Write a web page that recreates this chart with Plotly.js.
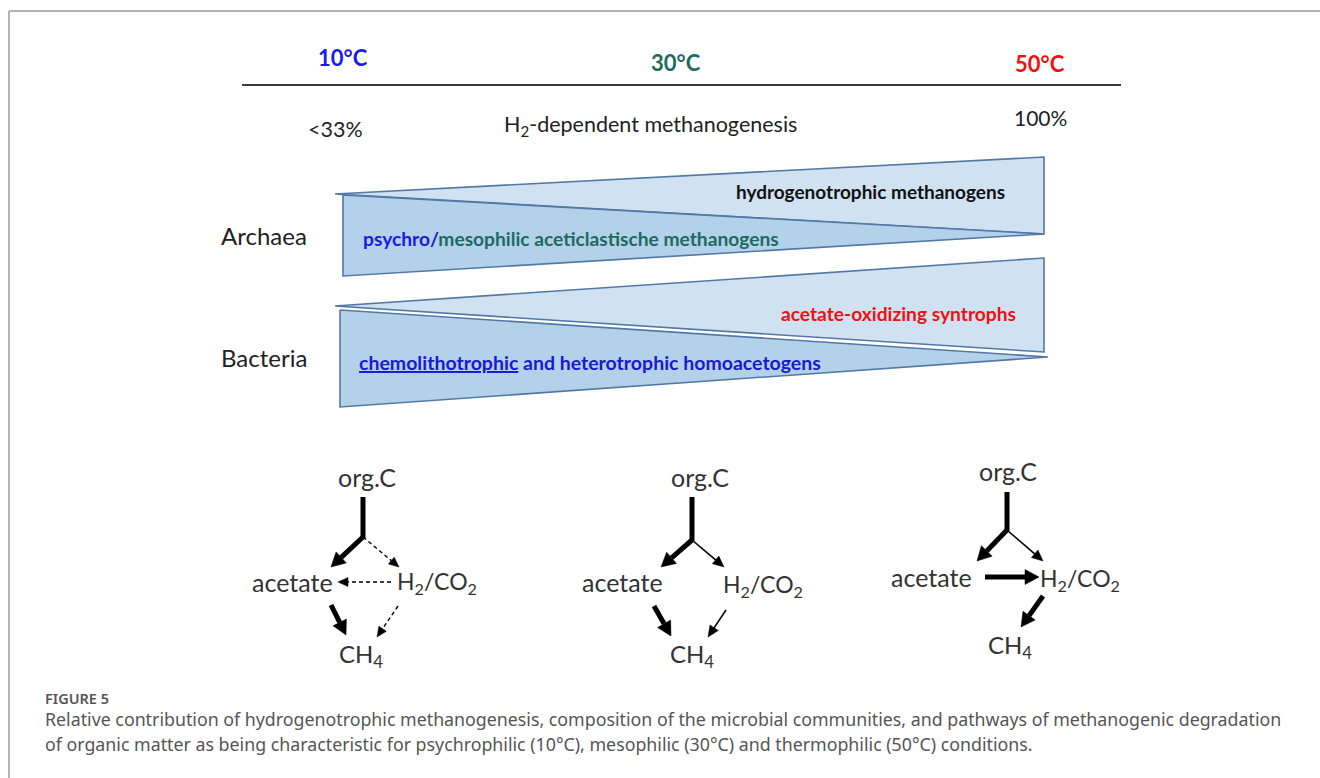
<!DOCTYPE html>
<html><head><meta charset="utf-8">
<script src="https://cdn.plot.ly/plotly-3.0.1.min.js"></script>
<style>html,body{margin:0;padding:0;background:#fff;}#chart{width:1320px;height:778px;}</style>
</head><body><div id="chart"></div>
<script>
// ---------------- data ----------------
const temperatures = ['10°C', '30°C', '50°C'];
const h2ShareLabels = ['<33%', '100%'];
const h2Title = 'H<sub>2</sub>-dependent methanogenesis';
const domains = ['Archaea', 'Bacteria'];
const risingGroups = ['hydrogenotrophic methanogens', 'acetate-oxidizing syntrophs'];
const fallingGroups = ['psychro/mesophilic aceticlastische methanogens', 'chemolithotrophic and heterotrophic homoacetogens'];
const risingShare = [0, 1];   // relative share at 10°C and 50°C (wedge thickness)
const fallingShare = [1, 0];
const nodeLabels = ['org.C', 'acetate', 'H<sub>2</sub>/CO<sub>2</sub>', 'CH<sub>4</sub>'];
// pathway fluxes per temperature: [edge, strength]
const paths10 = [['org', 'strong'], ['toAc', 'strong'], ['toH2', 'minor'], ['H2toAc', 'minor'], ['AcToCH4', 'strong'], ['H2toCH4', 'minor']];
const paths30 = [['org', 'strong'], ['toAc', 'strong'], ['toH2', 'weak'], ['AcToCH4', 'strong'], ['H2toCH4', 'weak']];
const paths50 = [['org', 'strong'], ['toAc', 'strong'], ['toH2', 'weak'], ['AcToH2', 'strong'], ['H2toCH4', 'strong']];
const captionHead = 'FIGURE 5';
const captionLines = [
  'Relative contribution of hydrogenotrophic methanogenesis, composition of the microbial communities, and pathways of methanogenic degradation',
  'of organic matter as being characteristic for psychrophilic (10°C), mesophilic (30°C) and thermophilic (50°C) conditions.'
];

// ---------------- geometry / styles ----------------
const FONT = 'Lato, "Open Sans", sans-serif';
const tempColors = ['#1a1af0', '#1d6b5f', '#f01010'];
const tempPos = [[343, 57], [676, 62], [1040, 63]];
const wedgeGeo = [
  {light: {x0: 335, yTip: 194, x1: 1044, yTop: 157, yBot: 234}, dark: {x0: 343, yTop: 195, yBot: 276, x1: 1044, yTip: 234}},
  {light: {x0: 335, yTip: 306, x1: 1044, yTop: 258, yBot: 352}, dark: {x0: 340, yTop: 310, yBot: 407, x1: 1048, yTip: 357}}
];
const diagGeo = [
  {labels: [[367, 477], [292, 582], [437, 582], [361, 655]],
   edges: {org: [[363, 497], [363, 538]], toAc: [[363, 537], [331, 567]], toH2: [[363, 537], [399, 567]],
           H2toAc: [[391, 582], [338, 582]], AcToCH4: [[331, 605], [346, 635]], H2toCH4: [[398, 606], [377, 637]]}},
  {labels: [[700, 477], [622, 582], [763, 585], [692, 655]],
   edges: {org: [[692, 497], [692, 541]], toAc: [[692, 540], [661, 567]], toH2: [[692, 540], [724, 567]],
           AcToCH4: [[654, 606], [671, 636]], H2toCH4: [[726, 610], [708, 637]]}},
  {labels: [[1008, 471], [931, 577], [1080, 579], [1010, 646]],
   edges: {org: [[1007, 492], [1007, 531]], toAc: [[1007, 530], [977, 561]], toH2: [[1007, 530], [1043, 561]],
           AcToH2: [[985, 577], [1039, 577]], H2toCH4: [[1043, 596], [1021, 627]]}}
];
const labelSizes = [25, 25, 23, 24];
const edgeStyle = {
  strong: {w: 5, dash: 'solid', headL: 14, headW: 15},
  weak: {w: 1.6, dash: 'solid', headL: 11, headW: 10},
  minor: {w: 1.4, dash: '4px,3px', headL: 10, headW: 9}
};

const traces = [];
const annotations = [];
const shapes = [];

// frame
shapes.push({type: 'line', x0: 9, x1: 1320, y0: 11, y1: 11, line: {color: '#b4b4b4', width: 2}});
shapes.push({type: 'line', x0: 9, x1: 9, y0: 11, y1: 778, line: {color: '#b4b4b4', width: 2}});
// top rule
shapes.push({type: 'line', x0: 242, x1: 1121, y0: 85, y1: 85, line: {color: '#3a3a3a', width: 2}});

temperatures.forEach((t, i) => {
  annotations.push({x: tempPos[i][0], y: tempPos[i][1], text: '<b>' + t + '</b>', showarrow: false,
    font: {family: FONT, size: 22, color: tempColors[i]}});
});
annotations.push({x: 335, y: 129, text: h2ShareLabels[0], showarrow: false, font: {family: FONT, size: 21.5, color: '#222'}});
annotations.push({x: 1040, y: 117, text: h2ShareLabels[1], showarrow: false, font: {family: FONT, size: 21, color: '#222'}});
annotations.push({x: 650, y: 125, text: h2Title, showarrow: false, font: {family: FONT, size: 21.5, color: '#222'}});

// wedges
const lightFill = '#d0e1f2', darkFill = '#b4d1ea', edgeCol = '#5279a6';
wedgeGeo.forEach((g, i) => {
  const L = g.light, D = g.dark;
  const lh = [(L.yBot - L.yTop) * risingShare[0], (L.yBot - L.yTop) * risingShare[1]];
  const dh = [(D.yBot - D.yTop) * fallingShare[0], (D.yBot - D.yTop) * fallingShare[1]];
  traces.push({type: 'scatter', mode: 'lines', fill: 'toself', fillcolor: lightFill,
    line: {color: edgeCol, width: 1.6}, hoverinfo: 'skip',
    x: [L.x0, L.x0, L.x1, L.x1, L.x0], y: [L.yTip - lh[0] / 2, L.yTip, L.yBot, L.yBot - lh[1], L.yTip - lh[0] / 2]});
  traces.push({type: 'scatter', mode: 'lines', fill: 'toself', fillcolor: darkFill,
    line: {color: edgeCol, width: 1.6}, hoverinfo: 'skip',
    x: [D.x0, D.x0, D.x1, D.x1, D.x0], y: [D.yTop, D.yTop + dh[0], D.yTip + dh[1], D.yTip, D.yTop]});
});

const CFONT = 'Lato, sans-serif';
annotations.push({x: 1007, y: 191, xanchor: 'right', text: '<b>' + risingGroups[0] + '</b>', showarrow: false,
  font: {family: CFONT, size: 19, color: '#111'}});
annotations.push({x: 361, y: 238, xanchor: 'left', showarrow: false,
  text: '<b><span style="color:#1a1ae0">' + fallingGroups[0].split('/')[0] + '/</span>' + fallingGroups[0].split('/')[1] + '</b>',
  font: {family: CFONT, size: 19.2, color: '#1d6b5f'}});
annotations.push({x: 1018, y: 313, xanchor: 'right', text: '<b>' + risingGroups[1] + '</b>', showarrow: false,
  font: {family: CFONT, size: 19.2, color: '#ee1111'}});
const fg = fallingGroups[1].split(' ');
annotations.push({x: 357, y: 362, xanchor: 'left', showarrow: false,
  text: '<b><u>' + fg[0] + '</u> ' + fg.slice(1).join(' ') + '</b>',
  font: {family: CFONT, size: 19.5, color: '#1a1ad0'}});
annotations.push({x: 264, y: 235, text: domains[0], showarrow: false, font: {family: FONT, size: 24, color: '#222'}});
annotations.push({x: 264, y: 357, text: domains[1], showarrow: false, font: {family: FONT, size: 24, color: '#222'}});

// pathway diagrams
[paths10, paths30, paths50].forEach((paths, d) => {
  const g = diagGeo[d];
  nodeLabels.forEach((lab, k) => {
    annotations.push({x: g.labels[k][0], y: g.labels[k][1], text: lab, showarrow: false,
      font: {family: FONT, size: labelSizes[k], color: '#333'}});
  });
  paths.forEach(([edge, strength]) => {
    const [p0, p1] = g.edges[edge];
    const st = edgeStyle[strength];
    const isHead = edge !== 'org';
    const dx = p1[0] - p0[0], dy = p1[1] - p0[1];
    const len = Math.hypot(dx, dy), ux = dx / len, uy = dy / len;
    const base = isHead ? [p1[0] - ux * st.headL, p1[1] - uy * st.headL] : p1;
    traces.push({type: 'scatter', mode: 'lines', hoverinfo: 'skip',
      x: [p0[0], base[0]], y: [p0[1], base[1]],
      line: {color: '#000', width: st.w, dash: st.dash}});
    if (isHead) {
      const px = -uy, py = ux, hw = st.headW / 2;
      traces.push({type: 'scatter', mode: 'lines', fill: 'toself', fillcolor: '#000', hoverinfo: 'skip',
        line: {color: '#000', width: 0.5},
        x: [p1[0], base[0] + px * hw, base[0] - px * hw, p1[0]],
        y: [p1[1], base[1] + py * hw, base[1] - py * hw, p1[1]]});
    }
  });
});

// caption
annotations.push({x: 43, y: 698, xanchor: 'left', text: captionHead, showarrow: false,
  font: {family: '"Noto Sans", sans-serif', size: 14.5, weight: 600, color: '#555'}});
captionLines.forEach((ln, i) => {
  annotations.push({x: 43, y: 719 + i * 25, xanchor: 'left', text: ln, showarrow: false,
    font: {family: '"Noto Sans", sans-serif', size: 17.8, color: '#555'}});
});

const layout = {
  width: 1320, height: 778, margin: {l: 0, r: 0, t: 0, b: 0},
  paper_bgcolor: '#fff', plot_bgcolor: '#fff', showlegend: false,
  xaxis: {range: [0, 1320], visible: false, fixedrange: true},
  yaxis: {range: [778, 0], visible: false, fixedrange: true},
  annotations: annotations, shapes: shapes
};
Plotly.newPlot('chart', traces, layout, {staticPlot: true, displayModeBar: false});
</script></body></html>
